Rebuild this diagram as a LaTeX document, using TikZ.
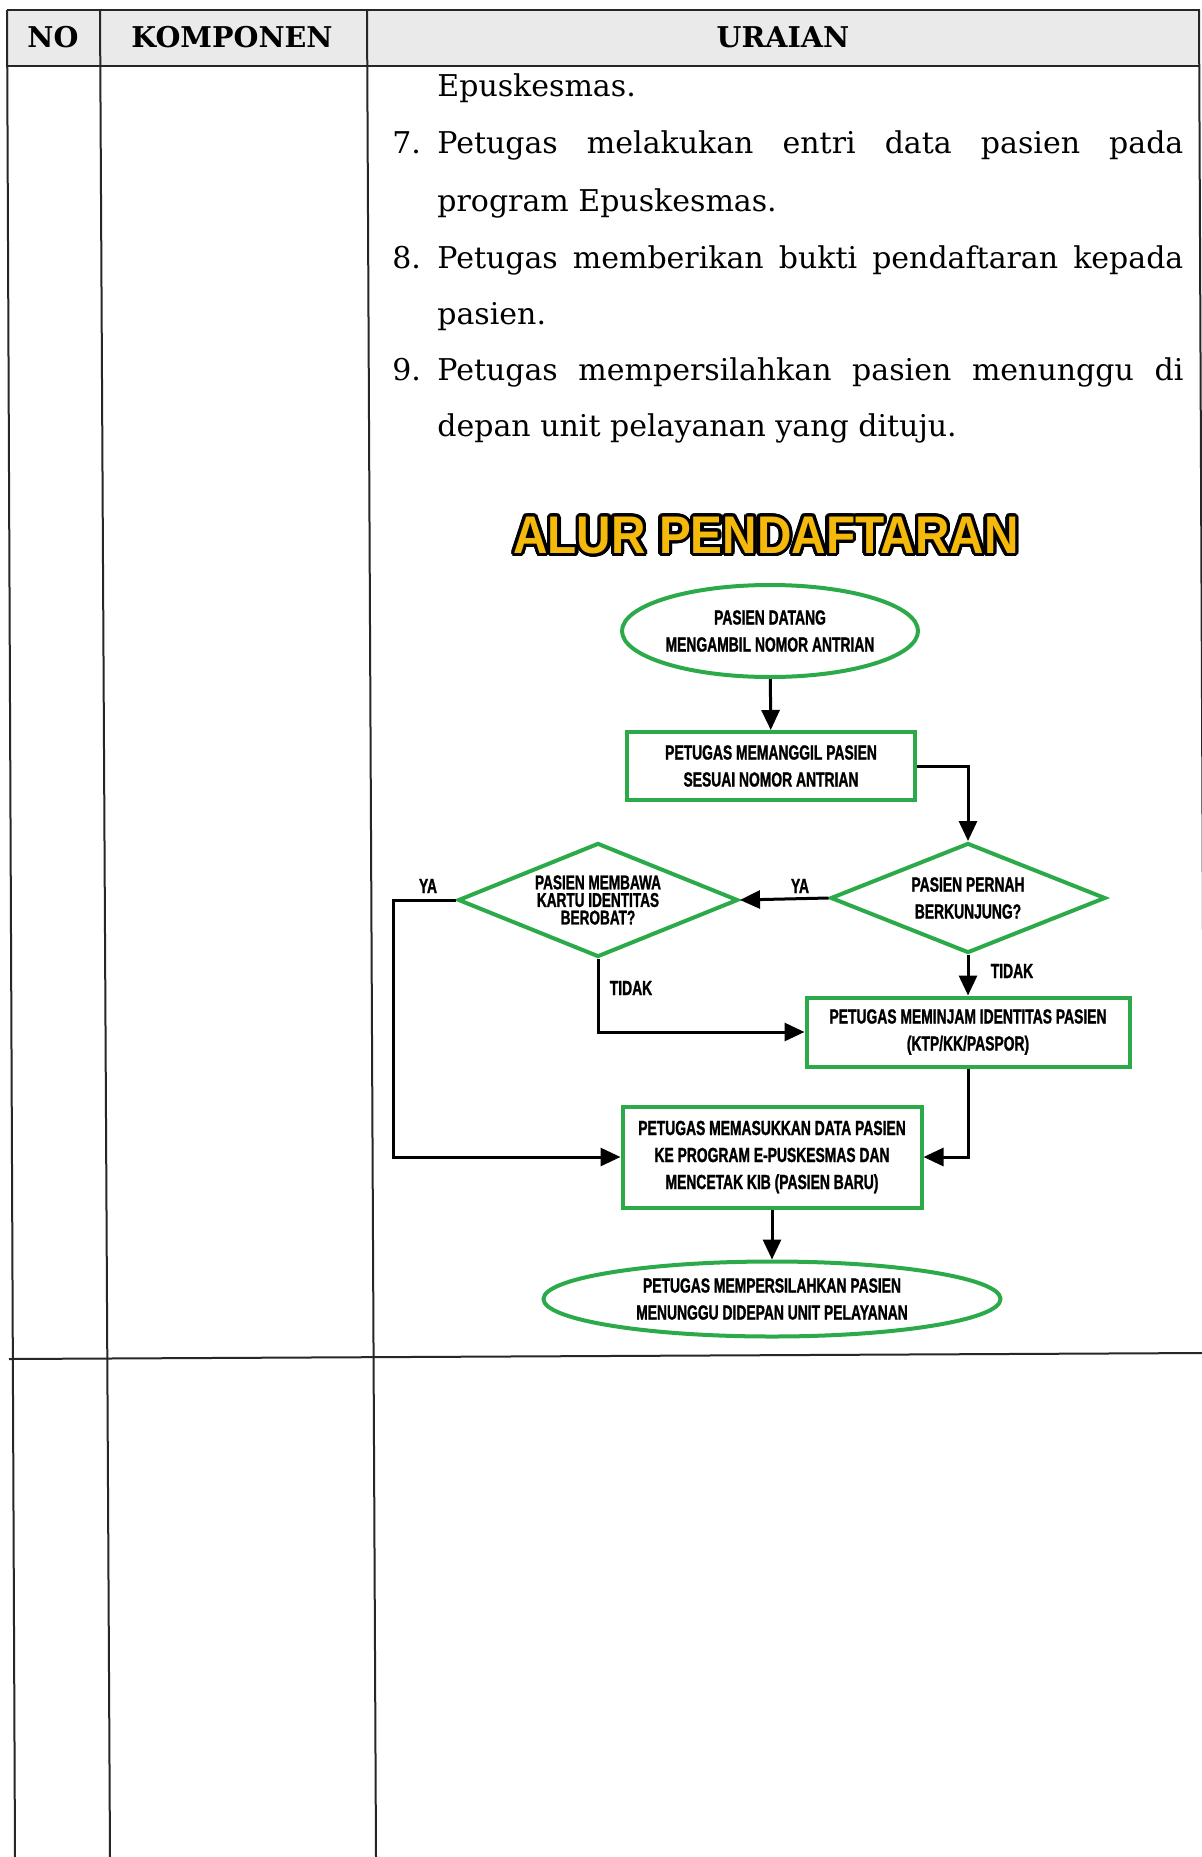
\documentclass[tikz,border=0pt]{standalone}
\usepackage{fontspec}
\setmainfont{DejaVu Serif}
\newfontfamily\flowfont{Liberation Sans}[FakeStretch=0.68,FakeBold=1.2]
\newfontfamily\titlefont{Liberation Sans}[FakeStretch=0.9]
\usepackage{contour}
\contourlength{1.6pt}
\contournumber{24}
\usetikzlibrary{shapes.geometric,arrows.meta}
\definecolor{flowgreen}{RGB}{44,170,74}
\definecolor{titleyellow}{RGB}{244,185,10}
\definecolor{headgray}{RGB}{234,234,234}
\tikzset{
  gridline/.style={line width=1pt, draw=black!85},
  bodytext/.style={inner sep=0pt, anchor=base west, font=\fontsize{15}{18}\selectfont},
  headtext/.style={inner sep=0pt, font=\fontsize{14.3}{17}\selectfont\bfseries},
  flowtext/.style={font=\flowfont\bfseries\fontsize{10.2}{13.5}\selectfont, align=center, text=black},
  terminal/.style={flowtext, shape=ellipse, draw=flowgreen, line width=2pt, inner sep=-3pt},
  process/.style={flowtext, shape=rectangle, draw=flowgreen, line width=2pt, inner sep=0pt},
  decision/.style={flowtext, shape=diamond, draw=flowgreen, line width=2pt, inner sep=0pt},
  connector/.style={line width=1.5pt, -{Triangle[length=10pt,width=9pt]}},
  flowlabel/.style={font=\flowfont\bfseries\fontsize{10.2}{12}\selectfont, inner sep=0pt, text=black},
}
\begin{document}
\begin{tikzpicture}[x=0.5pt,y=-0.5pt]
\useasboundingbox (0,0) rectangle (1202,1857);
\fill[white] (0,0) rectangle (1202,1857);

% ---------- table ----------
\fill[headgray] (7,10) rectangle (1200,66);
\draw[gridline] (7,10) -- (1200,10);
\draw[gridline] (7,66) -- (1200,66);
\draw[gridline] (7,10) -- (15,1857);
\draw[gridline] (100,10) -- (110,1857);
\draw[gridline] (367,10) -- (376,1857);
\draw[gridline] (1199,10) -- (1207,1857);
\draw[gridline] (9,1359) -- (1205,1353);

\node[headtext] (hno) at (53,37) {NO};
\node[headtext] (hkomp) at (232,37) {KOMPONEN};
\node[headtext] (hurai) at (783,37) {URAIAN};

% ---------- text ----------
\node[bodytext] (l6b) at (437,97) {Epuskesmas.};
\node[bodytext] (n7) at (392,154) {7.};
\node[bodytext] (l7a) at (437,154) {\makebox[373pt][s]{Petugas melakukan entri data pasien pada}};
\node[bodytext] (l7b) at (437,211) {program Epuskesmas.};
\node[bodytext] (n8) at (392,268) {8.};
\node[bodytext] (l8a) at (437,268) {\makebox[373pt][s]{Petugas memberikan bukti pendaftaran kepada}};
\node[bodytext] (l8b) at (437,324) {pasien.};
\node[bodytext] (n9) at (392,380) {9.};
\node[bodytext] (l9a) at (437,380) {\makebox[373pt][s]{Petugas mempersilahkan pasien menunggu di}};
\node[bodytext] (l9b) at (437,436) {depan unit pelayanan yang dituju.};

% ---------- title ----------
\node[font=\titlefont\bfseries\fontsize{26.5}{30}\selectfont, text=titleyellow, inner sep=0pt] (title) at (766,537) {\contour{black}{ALUR PENDAFTARAN}};

% ---------- flowchart ----------
\node[terminal, minimum width=148pt, minimum height=46pt] (e1) at (770,631) {PASIEN DATANG\\MENGAMBIL NOMOR ANTRIAN};
\node[process, minimum width=144pt, minimum height=34pt] (r2) at (771,766) {PETUGAS MEMANGGIL PASIEN\\SESUAI NOMOR ANTRIAN};
\node[decision, aspect=2.5, minimum width=137.5pt, minimum height=55pt] (d1) at (968,898) {PASIEN PERNAH\\BERKUNJUNG?};
\node[decision, aspect=2.46, minimum width=140pt, minimum height=57pt, font=\flowfont\bfseries\fontsize{10}{8.8}\selectfont] (d2) at (598,900) {PASIEN MEMBAWA\\KARTU IDENTITAS\\BEROBAT?};
\node[process, minimum width=161.5pt, minimum height=34.5pt] (r3) at (968,1032) {PETUGAS MEMINJAM IDENTITAS PASIEN\\(KTP/KK/PASPOR)};
\node[process, minimum width=149.5pt, minimum height=50.5pt] (r4) at (772,1157) {PETUGAS MEMASUKKAN DATA PASIEN\\KE PROGRAM E-PUSKESMAS DAN\\MENCETAK KIB (PASIEN BARU)};
\node[terminal, minimum width=228.5pt, minimum height=37.5pt] (e2) at (772,1299) {PETUGAS MEMPERSILAHKAN PASIEN\\MENUNGGU DIDEPAN UNIT PELAYANAN};

\coordinate (cl) at (393,1157);

\draw[connector] (e1) -- (r2);
\draw[connector] (r2.east) -| (d1.north);
\draw[connector] (d1.west) -- (d2.east);
\draw[connector] (d2.west) -| (cl) -- (r4.west);
\draw[connector] (d2.south) |- (r3.west);
\draw[connector] (d1.south) -- (d1.south |- r3.north);
\draw[connector] (r3.south) |- (r4.east);
\draw[connector] (r4.south) -- (r4.south |- e2.north);

\node[flowlabel] (ya1) at (800,886) {YA};
\node[flowlabel] (ya2) at (428,886) {YA};
\node[flowlabel] (td1) at (631,988) {TIDAK};
\node[flowlabel] (td2) at (1012,971) {TIDAK};
\end{tikzpicture}
\end{document}
